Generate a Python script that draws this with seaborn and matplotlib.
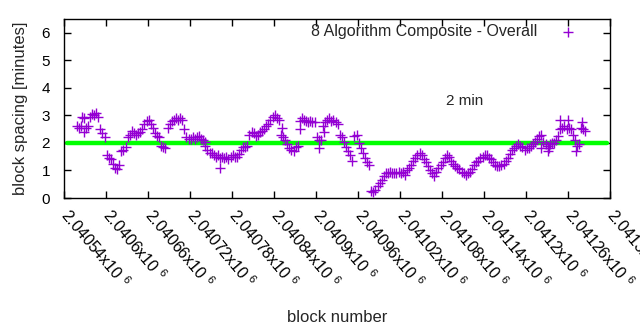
import numpy as np
import pandas as pd
import seaborn as sns
import matplotlib
matplotlib.use("Agg")
import matplotlib.pyplot as plt

# ---------------- data ----------------
block_start = 2040559          # first block shown
block_step = 3                 # sampled every 3 blocks
spacing = [
    2.6, 2.55, 2.6, 2.9, 2.55, 2.6, 2.95, 3.05, 3.0, 3.1,
    2.95, 2.5, 2.35, 2.2, 1.55, 1.45, 1.4, 1.25, 1.1, 1.05,
    1.2, 1.7, 1.75, 1.85, 2.2, 2.3, 2.45, 2.35, 2.3, 2.35,
    2.4, 2.5, 2.7, 2.8, 2.85, 2.7, 2.55, 2.35, 2.25, 2.2,
    1.9, 1.85, 1.8, 2.55, 2.7, 2.8, 2.85, 2.9, 2.85, 2.9,
    2.85, 2.5, 2.2, 2.15, 2.15, 2.2, 2.15, 2.2, 2.25, 2.15,
    2.1, 2.05, 1.75, 1.65, 1.65, 1.55, 1.5, 1.55, 1.45, 1.5,
    1.45, 1.5, 1.4, 1.5, 1.55, 1.5, 1.5, 1.6, 1.75, 1.85,
    1.85, 1.9, 2.3, 2.4, 2.35, 2.25, 2.3, 2.4, 2.45, 2.5,
    2.6, 2.7, 2.85, 2.95, 3.0, 2.9, 2.85, 2.3, 2.2, 2.1,
    1.95, 1.8, 1.75, 1.7, 1.85, 1.9, 2.8, 2.9, 2.85, 2.8,
    2.75, 2.8, 2.75, 2.75, 2.2, 2.1, 2.1, 2.6, 2.75, 2.85,
    2.9, 2.8, 2.85, 2.75, 2.7, 2.3, 2.2, 2.05, 1.85, 1.7,
    1.55, 1.35, 2.25, 2.3, 2.0, 1.8, 1.65, 1.45, 1.3, 1.2,
    0.25, 0.2, 0.3, 0.45, 0.55, 0.65, 0.8, 0.9, 0.9, 0.95,
    0.9, 0.92, 0.9, 0.95, 0.9, 0.95, 0.85, 1.0, 1.1, 1.2,
    1.35, 1.45, 1.55, 1.65, 1.55, 1.4, 1.3, 1.15, 1.0, 0.9,
    0.8, 0.95, 1.1, 1.2, 1.3, 1.45, 1.55, 1.5, 1.35, 1.25,
    1.15, 1.1, 1.05, 0.95, 0.9, 0.85, 0.9, 0.95, 1.05, 1.2,
    1.3, 1.35, 1.45, 1.5, 1.55, 1.55, 1.45, 1.4, 1.3, 1.2,
    1.15, 1.15, 1.2, 1.25, 1.35, 1.45, 1.6, 1.75, 1.8, 1.9,
    1.95, 1.9, 1.85, 1.75, 1.8, 1.8, 1.9, 1.95, 2.05, 2.15,
    2.25, 2.3, 2.05, 1.95, 1.9, 1.95, 2.0, 2.0, 2.1, 2.25,
    2.5, 2.55, 2.6, 2.5, 2.55, 2.5, 2.3, 2.1, 1.9, 1.95,
    2.55, 2.5, 2.45,
]
blocks = [block_start + block_step * i for i in range(len(spacing))]

# scattered individual points
extra_blocks = [2040566, 2040569, 2040741, 2040763, 2040851, 2040877,
                2040904, 2040911, 2041221, 2041233, 2041249, 2041260,
                2041271, 2041280, 2041232]
extra_spacing = [2.95, 2.4, 1.9, 1.1, 2.55, 2.5,
                 1.8, 2.4, 1.8, 1.8, 2.85, 2.85,
                 1.7, 2.75, 1.7]

x_ticks = [2040540 + 60 * k for k in range(14)]
x_tick_labels = ["%gx10 $^{6}$" % (t / 1e6) for t in x_ticks]
y_ticks = [0, 1, 2, 3, 4, 5, 6]
reference_minutes = 2.0

series_label = "8 Algorithm Composite - Overall"
note_text = "2 min"
note_block, note_value = 2041113, 3.53

# ---------------- style ----------------
sns.set_theme(style="ticks")
plt.rcParams["font.family"] = ["Liberation Sans", "DejaVu Sans"]
plt.rcParams["mathtext.fontset"] = "custom"
plt.rcParams["mathtext.rm"] = "Liberation Sans"
plt.rcParams["mathtext.it"] = "Liberation Sans"
plt.rcParams["mathtext.default"] = "regular"

purple = "#9400d3"
green = "#00ff00"

df = pd.DataFrame({"block": blocks + extra_blocks,
                   "spacing": spacing + extra_spacing})

fig = plt.figure(figsize=(6.4, 3.3), dpi=100)
ax = fig.add_axes([0.1, 0.4, 0.853, 0.542])

ax.axhline(reference_minutes, xmin=0.005, xmax=0.995, color=green,
           linewidth=3.2, zorder=1)

sns.scatterplot(data=df, x="block", y="spacing", marker="+", s=48,
                color=purple, linewidth=1.0, ax=ax, zorder=3,
                label=series_label)

ax.set_xlim(2040540, 2041320)
ax.set_ylim(0, 6.5)
ax.set_yticks(y_ticks)
ax.set_yticklabels([str(v) for v in y_ticks], fontsize=11)
ax.set_xticks(x_ticks)
ax.set_xticklabels(x_tick_labels, rotation=-50, ha="left", va="center",
                   rotation_mode="anchor", fontsize=11.5)

ax.tick_params(axis="both", direction="in", length=5, width=1,
               top=True, right=True, colors="black")
ax.tick_params(axis="x", pad=10)
ax.tick_params(axis="y", pad=10)
for s in ax.spines.values():
    s.set_color("black")
    s.set_linewidth(1)

ax.set_xlabel("block number", fontsize=12, labelpad=13)
ax.set_ylabel("block spacing [minutes]", fontsize=12, labelpad=10)

ax.text(note_block, note_value, note_text, fontsize=11, ha="center",
        va="center")

leg = ax.legend(loc="upper right", frameon=False, markerfirst=False,
                fontsize=11.5, handletextpad=0.95, borderaxespad=0.0,
                bbox_to_anchor=(0.965, 1.01))
for h in leg.legend_handles:
    h.set_sizes([48])

fig.savefig("out.png", dpi=100, facecolor="white")
